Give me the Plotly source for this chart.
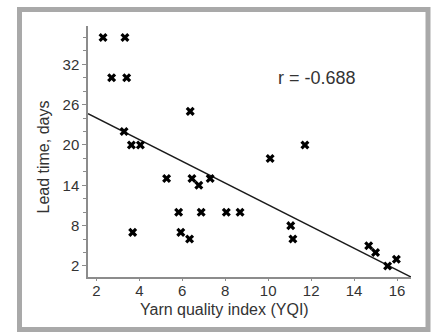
import plotly.graph_objects as go

yqi = [2.31, 3.33, 2.71, 3.41, 6.37, 3.29, 3.63, 4.05, 10.09, 11.71, 5.27, 6.45, 6.77, 7.30,
       5.83, 6.88, 8.05, 8.69, 3.69, 5.93, 6.34, 11.05, 11.15, 14.68, 15.0, 15.56, 15.97]
lead_time = [36, 36, 30, 30, 25, 22, 20, 20, 18, 20, 15, 15, 14, 15,
             10, 10, 10, 10, 7, 7, 6, 8, 6, 5, 4, 2, 3]
fit_x = [1.61, 16.65]
fit_y = [24.65, 0.36]
x_ticks = [2, 4, 6, 8, 10, 12, 14, 16]
y_ticks = [2, 8, 14, 20, 26, 32]
r_label = "r = -0.688"

font_fam = "Liberation Sans, Arial, sans-serif"
txt = "#333333"

fig = go.Figure()
fig.add_trace(go.Scatter(x=fit_x, y=fit_y, mode="lines",
                         line=dict(color="#1a1a1a", width=1.5), hoverinfo="skip"))
fig.add_trace(go.Scatter(x=yqi, y=lead_time, mode="markers",
                         marker=dict(symbol="x", size=8, color="black", line=dict(width=0))))

fig.update_layout(
    width=431, height=333,
    margin=dict(l=88, r=20, t=26, b=56, autoexpand=False),
    paper_bgcolor="white", plot_bgcolor="white",
    showlegend=False,
    font=dict(family=font_fam, color=txt, size=15),
    xaxis=dict(range=[1.61, 16.65], tickvals=x_ticks, showgrid=False, zeroline=False,
               showline=True, linecolor="#8c8c8c", linewidth=1.5,
               ticks="outside", ticklen=2, tickcolor="#8c8c8c", tickfont=dict(size=15),
               ticklabelstandoff=-3),
    yaxis=dict(range=[0.36, 37.7], tickvals=y_ticks, showgrid=False, zeroline=False,
               showline=True, linecolor="#8c8c8c", linewidth=1.5,
               ticks="outside", ticklen=4, tickcolor="#8c8c8c", tickfont=dict(size=15),
               minor=dict(dtick=2, tick0=0, ticks="outside", ticklen=3, tickcolor="#8c8c8c")),
    annotations=[
        dict(text=r_label, x=2 + (316.7 - 96.7) / 21.43, y=30, xref="x", yref="y", showarrow=False,
             font=dict(size=18, color=txt), xanchor="center", yanchor="middle"),
        dict(text="Yarn quality index (YQI)", x=(224 - 88) / 323, y=(277 - 310) / 251,
             xref="paper", yref="paper", showarrow=False, font=dict(size=16, color=txt),
             xanchor="center", yanchor="middle"),
        dict(text="Lead time, days", x=(43 - 88) / 323, y=(277 - 157.5) / 251,
             xref="paper", yref="paper", showarrow=False, textangle=-90,
             font=dict(size=16, color=txt), xanchor="center", yanchor="middle"),
    ],
    shapes=[dict(type="rect", xref="paper", yref="paper",
                 x0=(19.5 - 88) / 323, x1=(428 - 88) / 323,
                 y0=(277 - 329.5) / 251, y1=(277 - 9.5) / 251,
                 line=dict(color="#a9a9a9", width=5), fillcolor="rgba(0,0,0,0)", layer="below")],
)
fig.write_html("out.html")
